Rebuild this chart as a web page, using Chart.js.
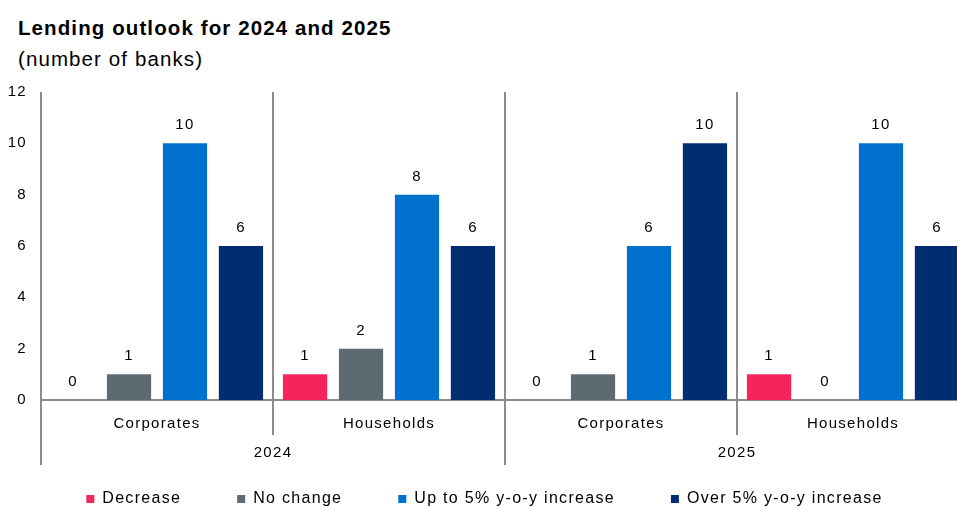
<!DOCTYPE html>
<html>
<head>
<meta charset="utf-8">
<script src="https://cdn.jsdelivr.net/npm/chart.js@4/dist/chart.umd.min.js"></script>
<style>
  html, body { margin: 0; padding: 0; background: #fff; overflow: hidden; }
  #wrap { position: relative; width: 969px; height: 506px; overflow: hidden; }
  #chart { position: absolute; left: 0; top: 0; }
  .head { position: absolute; left: 18px; font-family: "Liberation Sans", Arial, sans-serif; color: #000; white-space: nowrap; letter-spacing: 1.1px; }
  #title { top: 16px; font-size: 20.5px; font-weight: bold; }
  #subtitle { top: 47px; font-size: 20.5px; }
</style>
</head>
<body>
<div id="wrap">
  <div class="head" id="title">Lending outlook for 2024 and 2025</div>
  <div class="head" id="subtitle">(number of banks)</div>
  <canvas id="chart" width="969" height="517"></canvas>
</div>
<script>
// Categories and the year each pair of categories belongs to.
const categories = ['Corporates', 'Households', 'Corporates', 'Households'];
const years = ['2024', '2025'];

// Number of banks answering each outlook option, per category.
const decrease = [0, 1, 0, 1];
const noChange = [1, 2, 1, 0];
const upTo5 = [10, 8, 6, 10];
const over5 = [6, 6, 10, 6];

const yTicks = [0, 2, 4, 6, 8, 10, 12];

const FONT = '"Liberation Sans", Arial, sans-serif';
const LINE_COLOR = '#8c8c8c';
const TRACKING = '1.3px';

// Slightly tracked-out lettering for every canvas text (set before layout measures).
const tracking = {
  id: 'tracking',
  beforeUpdate(chart) { chart.ctx.letterSpacing = TRACKING; },
  beforeDraw(chart) { chart.ctx.letterSpacing = TRACKING; }
};

// Vertical separators between categories, plus the year row labels.
const separators = {
  id: 'separators',
  afterDraw(chart) {
    const { ctx, chartArea, scales } = chart;
    const x = scales.x;
    const base = scales.y.getPixelForValue(0);
    const catW = (x.right - x.left) / categories.length;
    ctx.save();
    ctx.strokeStyle = LINE_COLOR;
    ctx.lineWidth = 2;
    for (let k = 0; k <= categories.length; k++) {
      const px = Math.round(x.left + k * catW);
      const long = k % 2 === 0;
      ctx.beginPath();
      ctx.moveTo(px, chartArea.top);
      ctx.lineTo(px, base + (long ? 65 : 35));
      ctx.stroke();
    }
    ctx.fillStyle = '#000';
    ctx.font = '15px ' + FONT;
    ctx.textAlign = 'center';
    ctx.textBaseline = 'middle';
    years.forEach((yr, j) => {
      ctx.fillText(yr, x.left + (2 * j + 1) * catW, base + 53);
    });
    ctx.restore();
  }
};

// Value labels above every bar, zeros included.
const valueLabels = {
  id: 'valueLabels',
  afterDatasetsDraw(chart) {
    const { ctx } = chart;
    ctx.save();
    ctx.fillStyle = '#000';
    ctx.font = '15px ' + FONT;
    ctx.textAlign = 'center';
    ctx.textBaseline = 'middle';
    chart.data.datasets.forEach((ds, i) => {
      chart.getDatasetMeta(i).data.forEach((bar, j) => {
        ctx.fillText(String(ds.data[j]), bar.x, bar.y - 18);
      });
    });
    ctx.restore();
  }
};

new Chart(document.getElementById('chart'), {
  type: 'bar',
  data: {
    labels: categories,
    datasets: [
      { label: 'Decrease', data: decrease, backgroundColor: '#f5245c' },
      { label: 'No change', data: noChange, backgroundColor: '#5e6a71' },
      { label: 'Up to 5% y-o-y increase', data: upTo5, backgroundColor: '#0072ce' },
      { label: 'Over 5% y-o-y increase', data: over5, backgroundColor: '#002d72' }
    ]
  },
  options: {
    responsive: false,
    animation: false,
    maintainAspectRatio: false,
    datasets: { bar: { categoryPercentage: 0.965, barPercentage: 0.79 } },
    layout: { padding: { top: 92, left: 0, right: 0, bottom: 0 } },
    plugins: {
      tooltip: { enabled: false },
      legend: {
        position: 'bottom',
        labels: {
          font: { family: FONT, size: 16 },
          color: '#000',
          boxWidth: 8,
          boxHeight: 8,
          padding: 56
        }
      }
    },
    scales: {
      x: {
        grid: { display: false, drawTicks: false },
        border: { display: true, color: LINE_COLOR, width: 2 },
        ticks: { font: { family: FONT, size: 15 }, color: '#000', padding: 15 },
        afterFit(scale) { scale.height = 35; }
      },
      y: {
        min: 0,
        max: 12,
        grid: { display: false, drawTicks: false },
        border: { display: false },
        afterBuildTicks(scale) { scale.ticks = yTicks.map(v => ({ value: v })); },
        ticks: { font: { family: FONT, size: 15 }, color: '#000', padding: 14 },
        afterFit(scale) { scale.width = 41; }
      }
    }
  },
  plugins: [tracking, separators, valueLabels]
});
</script>
</body>
</html>
